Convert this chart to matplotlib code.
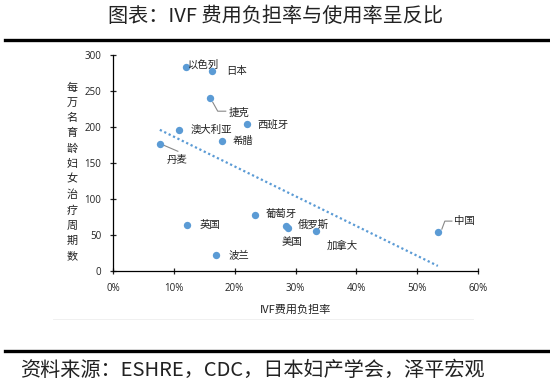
import matplotlib
matplotlib.use("Agg")
import matplotlib.pyplot as plt
import numpy as np

plt.rcParams['font.family'] = ['Noto Sans CJK SC', 'DejaVu Sans']

countries = ["以色列", "日本", "捷克", "西班牙", "澳大利亚", "希腊", "丹麦",
             "英国", "葡萄牙", "俄罗斯", "美国", "加拿大", "波兰", "中国"]
burden = [12.0, 16.3, 15.9, 22.0, 10.9, 17.9, 7.7,
          12.2, 23.3, 28.4, 28.8, 33.3, 17.0, 53.4]
cycles = [283, 278, 240, 204, 196, 181, 176,
          64, 78, 63, 60, 55, 22, 54]
# label offsets (pixels)
offsets = {"以色列": (2, 3), "日本": (14, 0), "捷克": (19, -15),
           "西班牙": (11, -1), "澳大利亚": (11, 0), "希腊": (11, 0),
           "丹麦": (7, -16), "英国": (12, 0), "葡萄牙": (11, 1),
           "俄罗斯": (12, 1), "美国": (-7, -14), "加拿大": (11, -14),
           "波兰": (12, 0), "中国": (16, 11)}
# leader line vertices, pixel offsets from point (y up)
leaders = {"捷克": [(3, -4), (8, -13), (16, -13)],
           "丹麦": [(4, -1), (18, -7)],
           "中国": [(4, 3), (7, 11), (14, 11)]}
xticks = [0, 10, 20, 30, 40, 50, 60]
yticks = [0, 50, 100, 150, 200, 250, 300]

blue = '#5B9BD5'
fig = plt.figure(figsize=(5.5, 3.84), dpi=100)
W, H = 550, 384
ax = fig.add_axes([113 / W, 1 - 271 / H, (478 - 113) / W, (271 - 55) / H])
ax.set_xlim(0, 60)
ax.set_ylim(0, 300)

x = np.array(burden)
y = np.array(cycles)
ax.scatter(x, y, s=28, color=blue, zorder=3, linewidths=0)

k, b = np.polyfit(x, y, 1)
xs = np.array([x.min(), x.max()])
ax.plot(xs, k * xs + b, linestyle=(0, (1, 1.2)), color=blue, lw=1.6)

inv = ax.transData.inverted()
for name, xv, yv in zip(countries, burden, cycles):
    dx, dy = offsets[name]
    ax.annotate(name, (xv, yv), xytext=(dx, dy), textcoords='offset pixels',
                ha='left', va='center', fontsize=7.5, color='#222222')
    if name in leaders:
        px, py = ax.transData.transform((xv, yv))
        pts = [(px + ox, py + oy) for ox, oy in leaders[name]]
        dp = inv.transform(pts)
        ax.plot(dp[:, 0], dp[:, 1], color='#888888', lw=0.8, zorder=2)

ax.set_xticks(xticks)
ax.set_xticklabels([f"{t}%" for t in xticks])
ax.set_yticks(yticks)
for s in ['top', 'right']:
    ax.spines[s].set_visible(False)
for s in ['left', 'bottom']:
    ax.spines[s].set_linewidth(0.9)
ax.tick_params(direction='inout', length=5, width=0.9, labelsize=7, pad=6, colors='#222222')
for lbl in ax.get_xticklabels() + ax.get_yticklabels():
    lbl.set_fontfamily(['Open Sans', 'DejaVu Sans'])
ax.set_xlabel("IVF费用负担率", fontsize=8, labelpad=8, color='#222222')

ylab = "每万名育龄妇女治疗周期数"
fig.text(72 / W, 1 - 172 / H, "\n".join(ylab), ha='center', va='center',
         fontsize=8, linespacing=1.62, color='#222222')

fig.text(0.5, 1 - 17 / H, "图表：IVF 费用负担率与使用率呈反比", ha='center', va='center',
         fontsize=14.5, color='#222222')
fig.add_artist(plt.Line2D([5 / W, 1], [1 - 40 / H, 1 - 40 / H], color='black', lw=2.4))
fig.add_artist(plt.Line2D([53 / W, 473 / W], [1 - 319 / H, 1 - 319 / H], color='#eeeeee', lw=0.6))
fig.add_artist(plt.Line2D([5 / W, 1], [1 - 351 / H, 1 - 351 / H], color='black', lw=2.4))
fig.text(20 / W, 1 - 370 / H, "资料来源：ESHRE，CDC，日本妇产学会，泽平宏观", ha='left', va='center',
         fontsize=14.5, color='#222222', style='italic')

fig.savefig("out.png", dpi=100)
